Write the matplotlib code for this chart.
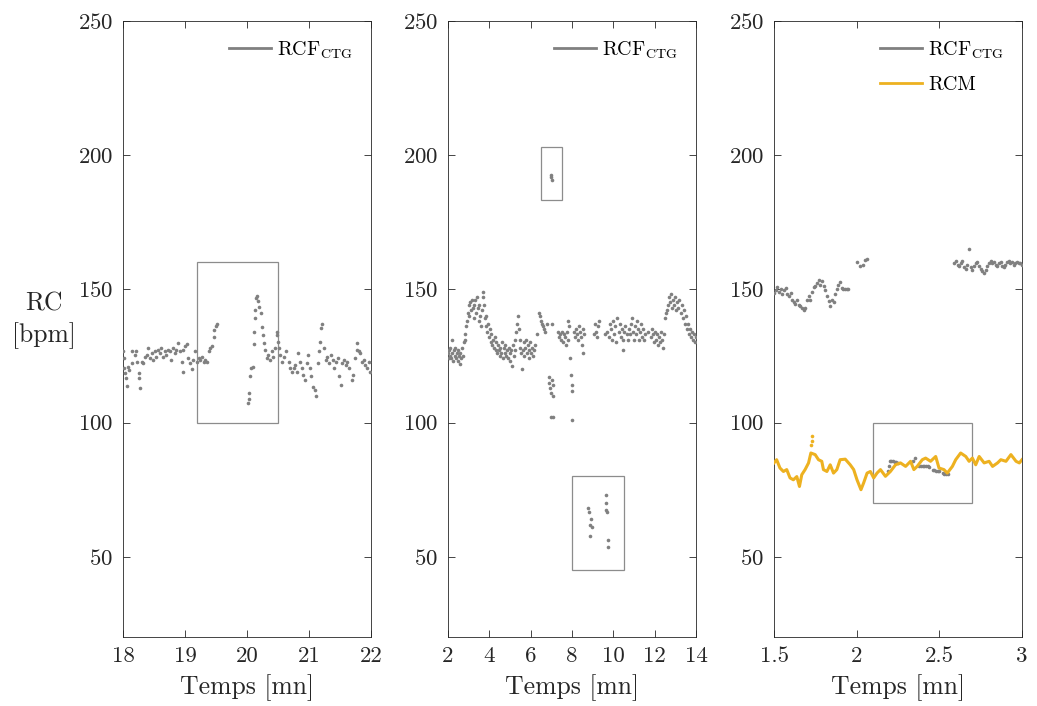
import matplotlib.pyplot as plt
from matplotlib.lines import Line2D
from matplotlib.patches import Rectangle

plt.rcParams['font.family'] = 'serif'
plt.rcParams['font.serif'] = ['cmr10']
plt.rcParams['mathtext.fontset'] = 'cm'
plt.rcParams['axes.formatter.use_mathtext'] = True

# ---- panneau 1 : RCF CTG, 18-22 mn
t1 = [18.00, 18.01, 18.02, 18.04, 18.05, 18.07, 18.08, 18.09, 18.14, 18.15,
      18.19, 18.21, 18.23, 18.25, 18.26, 18.27, 18.30, 18.33, 18.35, 18.38,
      18.41, 18.43, 18.46, 18.49, 18.52, 18.54, 18.57, 18.60, 18.62, 18.65,
      18.68, 18.70, 18.73, 18.76, 18.78, 18.81, 18.84, 18.86, 18.89, 18.92,
      18.95, 18.96, 18.97, 19.00, 19.03, 19.05, 19.08, 19.11, 19.13, 19.16,
      19.19, 19.22, 19.24, 19.27, 19.30, 19.32, 19.35, 19.38, 19.40, 19.43,
      19.46, 19.47, 19.50, 19.52,
      20.02, 20.03, 20.04, 20.05, 20.07, 20.09, 20.11, 20.12, 20.13, 20.135,
      20.14, 20.16, 20.18, 20.20, 20.22, 20.24, 20.25, 20.27, 20.29, 20.32,
      20.34, 20.37, 20.40, 20.42, 20.45, 20.48, 20.49, 20.50, 20.52, 20.54,
      20.57, 20.60, 20.63, 20.67, 20.69, 20.72, 20.75, 20.77, 20.80, 20.83,
      20.85, 20.88, 20.91, 20.93, 20.96, 20.99, 21.02, 21.04, 21.07, 21.10,
      21.12, 21.14, 21.16, 21.18, 21.19, 21.21, 21.24, 21.27, 21.29, 21.32,
      21.35, 21.38, 21.40, 21.43, 21.46, 21.48, 21.51, 21.54, 21.57, 21.59,
      21.62, 21.65, 21.69, 21.71, 21.74, 21.77, 21.78, 21.81, 21.83, 21.86,
      21.89, 21.91, 21.93, 21.96, 21.99]
rc1 = [126.6, 124.1, 120.4, 118.5, 116.6, 113.8, 120.7, 119.7, 122.2, 126.6,
       125.3, 126.6, 122.8, 118.5, 116.6, 112.9, 122.8, 122.2, 124.7, 125.3,
       127.8, 124.1, 126.0, 123.5, 126.6, 124.7, 127.2, 126.0, 127.8, 124.7,
       126.6, 125.3, 127.2, 126.6, 123.5, 127.8, 126.0, 127.2, 129.9, 126.6,
       122.8, 119.1, 127.2, 128.5, 129.4, 124.1, 122.2, 119.9, 123.5, 126.6,
       122.8, 124.1, 123.5, 124.7, 122.8, 123.5, 122.8, 126.6, 127.8, 128.5,
       131.9, 134.7, 136.2, 137.0,
       107.3, 109.0, 111.1, 117.3, 120.4, 120.8, 129.5, 133.7, 139.1, 142.2,
       146.5, 147.2, 145.3, 143.4, 140.9, 135.9, 132.8, 129.7, 127.2, 124.1,
       125.3, 123.5, 126.6, 124.7, 127.8, 132.8, 133.7, 130.3, 127.8, 125.3,
       122.8, 124.7, 126.6, 122.8, 120.4, 119.1, 120.4, 121.6, 119.1, 126.0,
       122.8, 120.4, 117.9, 116.0, 122.2, 125.3, 120.4, 117.3, 113.5, 112.3,
       109.8, 122.2, 126.6, 130.3, 135.3, 136.9, 127.8, 123.5, 124.7, 122.2,
       125.3, 123.5, 120.4, 122.8, 124.1, 117.3, 114.2, 122.2, 123.5, 121.6,
       122.8, 120.4, 116.0, 117.9, 124.1, 127.2, 129.9, 126.6, 126.0, 122.8,
       123.5, 121.6, 120.4, 122.8, 119.1]

# ---- panneau 2 : RCF CTG, 2-14 mn
t2 = [2.00, 2.03, 2.06, 2.09, 2.12, 2.15, 2.18, 2.21, 2.25, 2.28, 2.32, 2.35,
      2.39, 2.42, 2.46, 2.50, 2.53, 2.57, 2.60, 2.64, 2.68, 2.72, 2.76, 2.80,
      2.84, 2.88, 2.92, 2.96, 3.00, 3.04, 3.08, 3.12, 3.16, 3.20, 3.24, 3.28,
      3.32, 3.36, 3.40, 3.44, 3.48, 3.52, 3.56, 3.60, 3.64, 3.68, 3.71, 3.74,
      3.78, 3.82, 3.86, 3.90, 3.94, 3.98, 4.02, 4.06, 4.10, 4.14, 4.18, 4.22,
      4.26, 4.30, 4.34, 4.38, 4.42, 4.46, 4.50, 4.54, 4.58, 4.62, 4.66, 4.70,
      4.74, 4.78, 4.82, 4.86, 4.90, 4.94, 4.98, 5.02, 5.06, 5.10, 5.14, 5.18,
      5.22, 5.26, 5.30, 5.34, 5.38, 5.42, 5.46, 5.50, 5.54, 5.58, 5.62, 5.66,
      5.70, 5.74, 5.78, 5.82, 5.86, 5.90, 5.94, 5.98, 6.02, 6.06, 6.10, 6.15,
      6.20, 6.30, 6.42, 6.46, 6.50, 6.55, 6.60, 6.65, 6.70, 6.80, 6.88, 6.90,
      6.94, 6.98, 7.02, 7.06, 7.10, 7.00, 7.10, 7.01, 7.30, 7.35, 7.40, 7.45,
      7.50, 7.55, 7.60, 7.65, 7.70, 7.75, 7.80, 7.82, 7.85, 7.90, 7.93, 7.98,
      8.00, 8.02, 8.08, 8.15, 8.20, 8.25, 8.30, 8.35, 8.40, 8.45, 8.50, 8.52,
      8.55, 8.60, 9.05, 9.10, 9.15, 9.20, 9.25, 9.30, 9.62, 9.70, 9.78, 9.85,
      9.90, 9.95, 10.00, 10.05, 10.10, 10.15, 10.20, 10.25, 10.30, 10.35,
      10.40, 10.45, 10.48, 10.52, 10.56, 10.65, 10.70, 10.75, 10.80, 10.85,
      10.90, 10.95, 11.00, 11.05, 11.10, 11.15, 11.20, 11.25, 11.30, 11.35,
      11.40, 11.45, 11.50, 11.55, 11.70, 11.80, 11.85, 11.90, 11.95, 12.00,
      12.05, 12.10, 12.15, 12.20, 12.25, 12.30, 12.35, 12.40, 12.45, 12.50,
      12.55, 12.60, 12.65, 12.70, 12.75, 12.80, 12.85, 12.90, 12.95, 13.00,
      13.05, 13.10, 13.15, 13.20, 13.25, 13.30, 13.35, 13.40, 13.45, 13.50,
      13.55, 13.60, 13.65, 13.70, 13.75, 13.80, 13.85, 13.90, 13.95, 14.00,
      # valeurs aberrantes (encadrees)
      6.98, 7.00, 7.02,
      8.78, 8.82, 8.86, 8.90, 8.95, 8.87, 9.63, 9.64, 9.66, 9.68, 9.74, 9.76]
rc2 = [126, 124, 127, 125, 128, 124, 131, 126, 123, 127, 125, 128,
       124, 126, 123, 127, 125, 122, 126, 124, 128, 125, 130, 133,
       131, 136, 138, 141, 144, 140, 145, 142, 146, 143, 139, 144,
       146, 141, 147, 143, 138, 144, 140, 136, 142, 149, 147, 144,
       139, 136, 140, 134, 137, 132, 135, 130, 133, 129, 131, 128,
       132, 127, 130, 126, 129, 127, 125, 128, 126, 130, 124, 128,
       126, 129, 125, 127, 124, 128, 126, 123, 127, 121, 129, 125,
       131, 127, 134, 137, 140, 135, 131, 128, 126, 120, 127, 130,
       125, 128, 131, 126, 129, 124, 127, 130, 126, 128, 125, 127,
       129, 133, 141, 140, 138, 137, 136, 135, 134, 137, 117, 115,
       113, 111, 116, 110, 114, 102, 102, 137, 134, 132, 133, 131,
       134, 130, 133, 132, 129, 134, 131, 138, 136, 124, 118, 114,
       112, 101, 134, 132, 135, 133, 131, 136, 134, 132, 129, 126,
       135, 133, 133, 137, 134, 132, 136, 138, 133, 134, 132, 137,
       135, 131, 138, 133, 136, 130, 139, 134, 137, 132,
       135, 131, 127, 134, 136, 133, 131, 135, 133, 137,
       139, 134, 131, 136, 133, 138, 135, 131, 134, 137,
       132, 135, 131, 133, 134, 132, 135, 133, 130, 134,
       131, 133, 129, 132, 130, 134, 131, 128, 133, 139,
       141, 142, 144, 147, 145, 148, 143, 146, 144, 147,
       142, 145, 143, 146, 141, 144, 139, 142, 137, 140,
       135, 137, 133, 135, 132, 134, 131, 133, 130, 132,
       192.5, 191.8, 190.6,
       68.3, 66.5, 62.0, 64.0, 61.2, 57.8, 73.0, 70.0, 67.3, 66.8, 56.3, 53.7]

# ---- panneau 3 : RCF CTG et RCM, 1.5-3 mn
t3 = [1.50, 1.51, 1.52, 1.53, 1.54, 1.55, 1.56, 1.57, 1.58, 1.59, 1.60, 1.61,
      1.62, 1.63, 1.64, 1.65, 1.66, 1.67, 1.68, 1.69, 1.70, 1.71, 1.72, 1.73,
      1.74, 1.75, 1.76, 1.77, 1.78, 1.79, 1.80, 1.81, 1.82, 1.83, 1.84, 1.85,
      1.86, 1.87, 1.88, 1.89, 1.90, 1.91, 1.92, 1.93, 1.94, 1.95,
      2.00, 2.02, 2.04, 2.05, 2.06,
      2.19, 2.195, 2.20, 2.21, 2.22, 2.23, 2.24, 2.25, 2.34, 2.35, 2.38, 2.39,
      2.40, 2.41, 2.42, 2.43, 2.44, 2.46, 2.47, 2.48, 2.49, 2.50, 2.52, 2.53,
      2.54, 2.55,
      2.59, 2.60, 2.61, 2.62, 2.63, 2.64, 2.65, 2.66, 2.67, 2.68, 2.69, 2.70,
      2.71, 2.72, 2.73, 2.74, 2.75, 2.76, 2.77, 2.78, 2.79, 2.80, 2.81, 2.82,
      2.83, 2.84, 2.85, 2.86, 2.87, 2.88, 2.89, 2.90, 2.91, 2.92, 2.93, 2.94,
      2.95, 2.96, 2.97, 2.98, 2.99, 3.00]
rc3 = [148.5, 149.5, 150.8, 149.0, 150.0, 148.2, 149.5, 150.2, 148.0, 147.2,
       148.5, 146.0, 145.2, 144.5, 145.8, 144.0, 143.5, 142.8, 142.2, 143.0,
       145.8, 147.5, 146.0, 149.0, 150.5, 150.9, 152.0, 153.3, 151.5, 153.0,
       151.0, 149.5, 147.5, 145.5, 143.7, 146.0, 145.0, 148.0, 150.0, 151.5,
       152.7, 150.2, 150.0, 150.0, 149.8, 150.1,
       160.0, 158.5, 159.0, 160.8, 161.0,
       81.8, 83.7, 85.6, 85.8, 85.6, 85.4, 85.2, 85.0, 85.6, 86.8, 84.0, 83.9,
       83.8, 83.7, 83.7, 83.8, 83.6, 82.5, 82.3, 82.0, 82.0, 81.8, 81.2, 81.0,
       80.9, 80.8,
       159.5, 160.5, 159.0, 158.5, 159.8, 160.5, 158.0, 157.5, 159.0, 165.0,
       158.0, 157.0, 158.5, 159.5, 160.0, 158.5, 157.5, 156.5, 155.8, 157.0,
       158.5, 159.5, 160.5, 159.5, 160.0, 159.0, 158.5, 159.5, 160.0, 158.5,
       158.0, 159.0, 160.0, 160.5, 159.5, 160.0, 159.0, 159.5, 160.2, 159.5,
       159.8, 159.0]

tm = [1.500, 1.516, 1.536, 1.557, 1.577, 1.597, 1.617, 1.638, 1.654, 1.668,
      1.688, 1.709, 1.723, 1.749, 1.769, 1.789, 1.799, 1.820, 1.840, 1.860,
      1.880, 1.900, 1.931, 1.961, 1.982, 2.002, 2.026, 2.042, 2.063, 2.083,
      2.103, 2.123, 2.144, 2.174, 2.204, 2.235, 2.265, 2.296, 2.326, 2.346,
      2.366, 2.397, 2.417, 2.447, 2.478, 2.498, 2.528, 2.548, 2.579, 2.599,
      2.629, 2.660, 2.680, 2.700, 2.720, 2.741, 2.771, 2.801, 2.822, 2.852,
      2.872, 2.903, 2.933, 2.964, 2.984, 3.000]
rcm = [85.0, 86.2, 83.1, 81.8, 82.5, 79.4, 78.7, 79.9, 76.2, 80.6,
       82.5, 85.0, 88.7, 88.1, 86.2, 85.6, 82.5, 81.8, 84.3, 81.2,
       82.5, 86.2, 86.4, 84.3, 82.5, 78.7, 75.0, 77.5, 81.2, 81.8,
       79.4, 81.2, 82.5, 80.0, 81.8, 84.3, 85.0, 83.7, 85.6, 82.5,
       83.7, 86.2, 86.8, 85.6, 87.4, 83.1, 82.5, 81.2, 83.7, 86.2,
       88.7, 87.4, 85.6, 86.8, 84.3, 87.4, 85.0, 85.6, 83.7, 85.0,
       86.2, 85.6, 88.1, 85.6, 85.0, 86.2]
tm_pic = [1.726, 1.728, 1.730]
rcm_pic = [91.8, 93.3, 94.9]

# cadres (t0, rc0, largeur, hauteur)
cadres1 = [(19.2, 100, 1.3, 60)]
cadres2 = [(6.5, 183, 1.0, 20), (8.0, 45, 2.5, 35)]
cadres3 = [(2.1, 70, 0.6, 30)]

gris = (0.5, 0.5, 0.5)
orange = (0.929, 0.694, 0.125)
noir = (0.15, 0.15, 0.15)

fig = plt.figure(figsize=(10.37, 7.06), dpi=100)
W, H = 1037, 706
lefts = [123, 448, 774]
axes = [fig.add_axes([l / W, 1 - 637 / H, 248 / W, 616 / H]) for l in lefts]

panneaux = [
    (t1, rc1, (18, 22), [18, 19, 20, 21, 22], ['18', '19', '20', '21', '22'], cadres1),
    (t2, rc2, (2, 14), [2, 4, 6, 8, 10, 12, 14], ['2', '4', '6', '8', '10', '12', '14'], cadres2),
    (t3, rc3, (1.5, 3), [1.5, 2, 2.5, 3], ['1.5', '2', '2.5', '3'], cadres3),
]

for ax, (t, rc, xl, xt, xtl, cadres) in zip(axes, panneaux):
    ax.plot(t, rc, linestyle='none', marker='o', ms=2.6, mew=0, color=gris, zorder=3)
    for (x0, y0, w, h) in cadres:
        ax.add_patch(Rectangle((x0, y0), w, h, fill=False, ec=(0.55, 0.55, 0.55), lw=0.9, zorder=2))
    ax.set_xlim(*xl)
    ax.set_ylim(20, 250)
    ax.set_xticks(xt)
    ax.set_xticklabels(xtl)
    ax.set_yticks([50, 100, 150, 200, 250])
    ax.tick_params(direction='in', length=5, width=0.6, colors=noir, labelsize=16.5,
                   top=True, right=True, pad=7)
    for sp in ax.spines.values():
        sp.set_color(noir)
        sp.set_linewidth(0.6)
    ax.set_xlabel('Temps [mn]', fontsize=18.5, color=noir, labelpad=6)

axes[2].plot(tm, rcm, '-', color=orange, lw=2.2, zorder=4)
axes[2].plot(tm_pic, rcm_pic, linestyle='none', marker='o', ms=2.6, mew=0, color=orange, zorder=4)

h_ctg = Line2D([], [], color=gris, lw=2)
h_rcm = Line2D([], [], color=orange, lw=2)
lab_ctg = r'RCF$_{\mathrm{CTG}}$'
for ax in axes[:2]:
    ax.legend([h_ctg], [lab_ctg], loc='upper right', frameon=False, fontsize=14.5,
              handlelength=2.1, handletextpad=0.3, borderaxespad=0.5)
axes[2].legend([h_ctg, h_rcm], [lab_ctg, 'RCM'], loc='upper right', frameon=False, fontsize=14.5,
               handlelength=2.1, handletextpad=0.3, borderaxespad=0.5, labelspacing=0.75)

fig.text(44 / W, 1 - 320 / H, 'RC\n[bpm]', ha='center', va='center', fontsize=18.5,
         color=noir, linespacing=1.35)

fig.savefig('out.png', dpi=100)
